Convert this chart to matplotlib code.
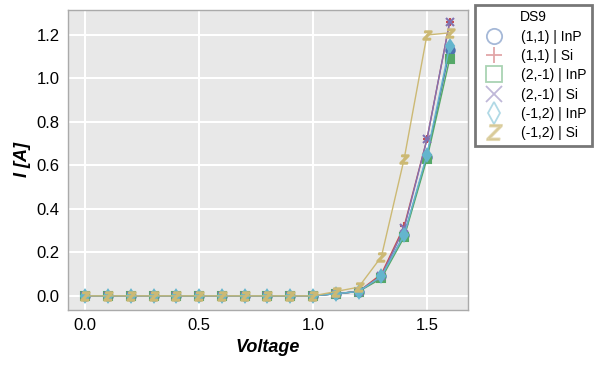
import numpy as np
import matplotlib
matplotlib.use('Agg')
import matplotlib.pyplot as plt
from matplotlib.lines import Line2D

plt.rcParams['font.family'] = ['Liberation Sans', 'DejaVu Sans']

# Data
voltage = [0.0, 0.1, 0.2, 0.3, 0.4, 0.5, 0.6, 0.7, 0.8, 0.9, 1.0, 1.1, 1.2, 1.3, 1.4, 1.5, 1.6]
i_11_inp = [0, 0, 0, 0, 0, 0, 0, 0, 0, 0, 0.0, 0.01, 0.02, 0.09, 0.28, 0.64, 1.13]
i_11_si = [0, 0, 0, 0, 0, 0, 0, 0, 0, 0, 0.0, 0.01, 0.02, 0.10, 0.32, 0.72, 1.26]
i_21_inp = [0, 0, 0, 0, 0, 0, 0, 0, 0, 0, 0.0, 0.01, 0.02, 0.08, 0.27, 0.63, 1.09]
i_21_si = [0, 0, 0, 0, 0, 0, 0, 0, 0, 0, 0.0, 0.01, 0.02, 0.09, 0.31, 0.72, 1.26]
i_12_inp = [0, 0, 0, 0, 0, 0, 0, 0, 0, 0, 0.0, 0.01, 0.02, 0.09, 0.28, 0.65, 1.15]
i_12_si = [0, 0, 0, 0, 0, 0, 0, 0, 0, 0, 0.0, 0.02, 0.04, 0.18, 0.63, 1.20, 1.21]

labels = ['(1,1) | InP', '(1,1) | Si', '(2,-1) | InP', '(2,-1) | Si', '(-1,2) | InP', '(-1,2) | Si']
series = [i_11_inp, i_11_si, i_21_inp, i_21_si, i_12_inp, i_12_si]
colors = ['#4C72B0', '#C44E52', '#55A868', '#8172B2', '#64B5CD', '#CCB974']
markers = ['o', '+', 's', 'x', 'd', '$Z$']

fig = plt.figure(figsize=(6.03, 3.71), dpi=100)
ax = fig.add_axes([0.113, 0.165, 0.663, 0.808])
ax.set_facecolor('#E8E8E8')
ax.grid(True, color='white', linewidth=1.5)
ax.set_axisbelow(True)
for s in ax.spines.values():
    s.set_color('#AAAAAA')
    s.set_linewidth(1.0)

handles = []
for y, lab, c, m in zip(series, labels, colors, markers):
    ax.plot(voltage, y, color=c, marker=m, markersize=6, markeredgewidth=1.5,
            linewidth=1.0, label=lab)
    handles.append(Line2D([], [], color=c, marker=m, linestyle='none', markersize=11,
                          markerfacecolor='none' if m != '$Z$' else c,
                          markeredgewidth=1.3, alpha=0.5, label=lab))

ax.set_xlim(-0.075, 1.68)
ax.set_ylim(-0.064, 1.315)
ax.set_xticks([0.0, 0.5, 1.0, 1.5])
ax.set_yticks([0.0, 0.2, 0.4, 0.6, 0.8, 1.0, 1.2])
ax.tick_params(length=0, labelsize=12, pad=6)
ax.set_xlabel('Voltage', fontsize=13, fontweight='bold', style='italic')
ax.set_ylabel('I [A]', fontsize=13, fontweight='bold', style='italic')

leg = ax.legend(handles=handles, title='DS9', loc='upper left', bbox_to_anchor=(1.0175, 1.017),
                borderaxespad=0, fontsize=10, title_fontsize=10, frameon=True, fancybox=False,
                handletextpad=0.9, borderpad=0.4, labelspacing=0.38)
leg.get_frame().set_edgecolor('#555555')
leg.get_frame().set_linewidth(2)

fig.savefig('out.png', dpi=100)
